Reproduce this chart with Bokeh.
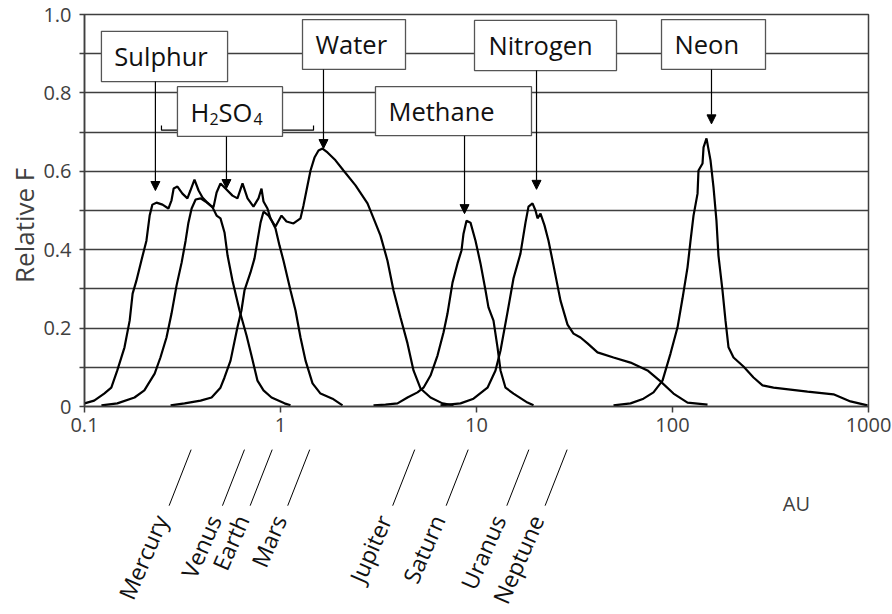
from bokeh.plotting import figure
from bokeh.models import (FixedTicker, CustomJSTickFormatter, Arrow, NormalHead,
                          Label, Range1d)
from bokeh.core.properties import value
from bokeh.embed import file_html
from bokeh.resources import INLINE

# ---------------- data ----------------
sulphur_au = [0.100, 0.112, 0.126, 0.137, 0.147, 0.160, 0.170, 0.176, 0.184, 0.195,
              0.207, 0.215, 0.222, 0.233, 0.250, 0.268, 0.278, 0.285, 0.298, 0.316,
              0.335, 0.347, 0.364, 0.382, 0.400, 0.424, 0.450, 0.472, 0.494, 0.518,
              0.537, 0.569, 0.618, 0.671, 0.711, 0.763, 0.819, 0.900, 1.048, 1.125]
sulphur_f = [0.008, 0.015, 0.033, 0.048, 0.092, 0.151, 0.219, 0.288, 0.321, 0.372,
             0.423, 0.487, 0.515, 0.520, 0.515, 0.505, 0.526, 0.556, 0.561, 0.543,
             0.531, 0.551, 0.579, 0.551, 0.533, 0.520, 0.508, 0.487, 0.480, 0.444,
             0.385, 0.321, 0.245, 0.181, 0.130, 0.066, 0.041, 0.023, 0.008, 0.003]

h2so4_au = [0.122, 0.147, 0.180, 0.202, 0.228, 0.244, 0.262, 0.278, 0.295, 0.313,
            0.328, 0.339, 0.352, 0.369, 0.391, 0.414, 0.439, 0.455, 0.472, 0.494,
            0.524, 0.569, 0.603, 0.640, 0.679, 0.728, 0.772, 0.800, 0.819, 0.858,
            0.889, 0.943, 0.988, 1.036, 1.125, 1.193, 1.265, 1.342, 1.457, 1.600,
            1.842, 2.072]
h2so4_f = [0.003, 0.008, 0.023, 0.041, 0.084, 0.125, 0.176, 0.237, 0.309, 0.367,
           0.423, 0.469, 0.505, 0.528, 0.531, 0.523, 0.513, 0.508, 0.546, 0.569,
           0.556, 0.538, 0.531, 0.569, 0.531, 0.510, 0.531, 0.556, 0.523, 0.505,
           0.480, 0.454, 0.411, 0.372, 0.296, 0.245, 0.176, 0.117, 0.059, 0.033,
           0.020, 0.003]

water_au = [0.275, 0.324, 0.391, 0.445, 0.494, 0.518, 0.556, 0.603, 0.632, 0.655,
            0.703, 0.737, 0.763, 0.791, 0.819, 0.869, 0.943, 1.012, 1.073, 1.165,
            1.265, 1.310, 1.373, 1.423, 1.491, 1.563, 1.638, 1.737, 1.908, 2.096,
            2.414, 2.779, 3.017, 3.237, 3.514, 3.772, 4.095, 4.446, 4.770, 5.179,
            5.826, 6.708, 7.634]
water_f = [0.003, 0.008, 0.015, 0.023, 0.048, 0.074, 0.117, 0.202, 0.245, 0.296,
           0.342, 0.378, 0.423, 0.469, 0.497, 0.487, 0.459, 0.487, 0.472, 0.467,
           0.480, 0.513, 0.564, 0.602, 0.635, 0.653, 0.658, 0.648, 0.628, 0.602,
           0.564, 0.518, 0.474, 0.436, 0.372, 0.296, 0.227, 0.161, 0.092, 0.046,
           0.023, 0.008, 0.003]

methane_au = [2.982, 3.433, 3.953, 4.446, 5.000, 5.365, 5.826, 6.324, 6.787, 7.112,
              7.544, 8.000, 8.385, 8.584, 8.892, 9.320, 9.883, 10.48, 11.12, 11.51,
              12.21, 12.80, 13.26, 14.06, 15.45, 18.20, 19.54]
methane_f = [0.003, 0.005, 0.008, 0.023, 0.036, 0.048, 0.079, 0.130, 0.189, 0.237,
             0.316, 0.365, 0.398, 0.441, 0.474, 0.469, 0.423, 0.365, 0.296, 0.253,
             0.219, 0.151, 0.092, 0.048, 0.033, 0.010, 0.003]

nitrogen_au = [6.551, 8.287, 9.654, 11.38, 12.50, 13.26, 14.39, 15.45, 16.76, 17.78,
               18.42, 19.31, 20.00, 20.48, 21.21, 22.23, 23.30, 24.71, 26.83, 29.13,
               31.26, 33.93, 36.85, 41.43, 50.00, 61.06, 74.56, 86.88, 101.2, 119.3,
               150.9]
nitrogen_f = [0.003, 0.008, 0.020, 0.048, 0.092, 0.143, 0.240, 0.327, 0.390, 0.469,
              0.510, 0.518, 0.500, 0.480, 0.492, 0.462, 0.423, 0.360, 0.270, 0.209,
              0.186, 0.176, 0.161, 0.138, 0.125, 0.112, 0.092, 0.064, 0.033, 0.010,
              0.005]

neon_au = [50.00, 61.06, 71.12, 80.00, 88.92, 97.68, 106.1, 112.5, 119.3, 123.6,
           128.0, 134.2, 135.7, 142.3, 144.0, 149.1, 156.3, 161.9, 167.6, 171.6,
           179.9, 186.4, 193.1, 204.8, 230.2, 259.0, 287.9, 327.6, 400.0, 488.5,
           662.8, 809.4, 988.3]
neon_f = [0.003, 0.008, 0.020, 0.036, 0.066, 0.135, 0.202, 0.276, 0.355, 0.423,
          0.487, 0.543, 0.602, 0.620, 0.661, 0.684, 0.628, 0.559, 0.474, 0.385,
          0.296, 0.219, 0.151, 0.125, 0.102, 0.074, 0.054, 0.048, 0.043, 0.038,
          0.031, 0.013, 0.003]

planets = ["Mercury", "Venus", "Earth", "Mars", "Jupiter", "Saturn", "Uranus", "Neptune"]
planet_au = [0.35, 0.655, 0.907, 1.41, 4.84, 9.07, 18.5, 29.0]

x_ticks = [0.1, 1, 10, 100, 1000]
y_major = [0.0, 0.2, 0.4, 0.6, 0.8, 1.0]
y_minor = [0.1, 0.3, 0.5, 0.7, 0.9]

# ---------------- styling ----------------
FONT = "Open Sans"
GRID = "#3f3f3f"
TXT = "#404040"
BOX_TXT = "#111111"

p = figure(width=892, height=614, x_axis_type="log",
           x_range=Range1d(0.1, 1000), y_range=Range1d(0, 1.0),
           output_backend="svg", toolbar_location=None,
           min_border_left=84, min_border_right=24, min_border_top=14,
           min_border_bottom=208)
p.background_fill_color = "white"
p.border_fill_color = "white"
p.outline_line_color = GRID
p.outline_line_width = 1.5

# x axis
p.xaxis.ticker = FixedTicker(ticks=x_ticks, minor_ticks=[])
p.xaxis.formatter = CustomJSTickFormatter(code="return String(tick);")
p.xaxis.major_tick_in = 0
p.xaxis.major_tick_out = 6
p.xaxis.minor_tick_out = 0
p.xaxis.minor_tick_in = 0
p.xaxis.axis_line_color = GRID
p.xaxis.axis_line_width = 1.5
p.xaxis.major_tick_line_color = GRID
p.xaxis.major_tick_line_width = 1.5
p.xaxis.major_label_text_font = FONT
p.xaxis.major_label_text_font_size = "20px"
p.xaxis.major_label_text_color = TXT
p.xaxis.major_label_standoff = 5
p.xgrid.grid_line_color = None

# y axis
yt = FixedTicker(ticks=y_major, minor_ticks=y_minor)
p.yaxis.ticker = yt
p.yaxis.formatter = CustomJSTickFormatter(code="return tick == 0 ? '0' : tick.toFixed(1);")
p.yaxis.major_tick_in = 0
p.yaxis.major_tick_out = 5
p.yaxis.minor_tick_in = 0
p.yaxis.minor_tick_out = 5
p.yaxis.axis_line_color = GRID
p.yaxis.axis_line_width = 1.5
p.yaxis.major_tick_line_color = GRID
p.yaxis.major_tick_line_width = 1.5
p.yaxis.minor_tick_line_color = GRID
p.yaxis.minor_tick_line_width = 1.5
p.yaxis.major_label_text_font = FONT
p.yaxis.major_label_text_font_size = "20px"
p.yaxis.major_label_text_color = TXT
p.yaxis.major_label_standoff = 8
p.ygrid.grid_line_color = GRID
p.ygrid.grid_line_width = 1.5
p.ygrid.minor_grid_line_color = GRID
p.ygrid.minor_grid_line_width = 1.5

# ---------------- curves ----------------
for xs, ys in [(sulphur_au, sulphur_f), (h2so4_au, h2so4_f), (water_au, water_f),
               (methane_au, methane_f), (nitrogen_au, nitrogen_f), (neon_au, neon_f)]:
    p.line(xs, ys, line_color="black", line_width=2.2)

# ---------------- annotations (layout positions) ----------------
# H2SO4 range bracket
p.multi_line(xs=[[0.247, 0.247, 1.474, 1.474]], ys=[[0.717, 0.705, 0.705, 0.717]],
             line_color="black", line_width=1.2)

boxes = [  # left, right, bottom, top
    (0.122, 0.537, 0.829, 0.957),
    (0.298, 1.024, 0.689, 0.816),
    (1.295, 4.343, 0.860, 0.987),
    (3.052, 19.08, 0.691, 0.816),
    (9.768, 51.80, 0.857, 0.985),
    (87.89, 298.2, 0.860, 0.987),
]
p.quad(left=[b[0] for b in boxes], right=[b[1] for b in boxes],
       bottom=[b[2] for b in boxes], top=[b[3] for b in boxes],
       fill_color="white", line_color="#555555", line_width=1.3)

box_texts = [("Sulphur", 0.142, 0.893), ("Water", 1.509, 0.9235),
             ("Methane", 3.556, 0.7535), ("Nitrogen", 11.51, 0.921),
             ("Neon", 102.4, 0.9235)]
for t, x, y in box_texts:
    p.add_layout(Label(x=x, y=y, text=t, text_font=FONT, text_font_size="25.5px",
                       text_color=BOX_TXT, text_baseline="middle",
                       text_align="left"))

# H2SO4 with subscripts
for t, dx, dy, fs in [("H", 0, 0, "25.5px"), ("2", 19, -7, "16px"),
                      ("SO", 28, 0, "25.5px"), ("4", 63, -7, "16px")]:
    p.add_layout(Label(x=0.347, y=0.7525, x_offset=dx, y_offset=dy, text=t,
                       text_font=FONT, text_font_size=fs, text_color=BOX_TXT,
                       text_baseline="middle", text_align="left"))

arrows = [  # x, y_start, y_end
    (0.230, 0.829, 0.551),
    (0.530, 0.689, 0.556),
    (1.657, 0.860, 0.658),
    (8.688, 0.691, 0.492),
    (20.24, 0.857, 0.554),
    (158.1, 0.860, 0.721),
]
for x, y0, y1 in arrows:
    p.add_layout(Arrow(end=NormalHead(size=9, fill_color="black", line_color="black",
                                      line_width=1),
                       x_start=x, y_start=y0, x_end=x, y_end=y1,
                       line_color="black", line_width=1.2))

# ---------------- outside the frame ----------------
# y axis title
p.text(x=[0.0494], y=[0.462], text=["Relative F"], angle=1.5708,
       text_align="center", text_baseline="middle", text_font=value(FONT),
       text_font_size="26px", text_color=TXT, level="overlay")

lead_x_end = [a * 0.772 for a in planet_au]
text_x = [a * 0.70 for a in planet_au]
p.segment(x0=planet_au, y0=[-0.110] * 8, x1=lead_x_end, y1=[-0.253] * 8,
          line_color="black", line_width=1, level="overlay")
p.scatter(planet_au, [-0.110] * 8, size=3, color="black", level="overlay")
p.text(x=text_x, y=[-0.280] * 8, text=planets, angle=1.16,
       text_align="right", text_baseline="middle",
       text_font=value(FONT), text_font_size="23px", text_color=BOX_TXT,
       level="overlay")

p.text(x=[429], y=[-0.247], text=["AU"], text_font=value(FONT),
       text_font_size="20px", text_color=TXT, text_align="center",
       text_baseline="middle", level="overlay")

open("out.html", "w").write(file_html(p, INLINE))
